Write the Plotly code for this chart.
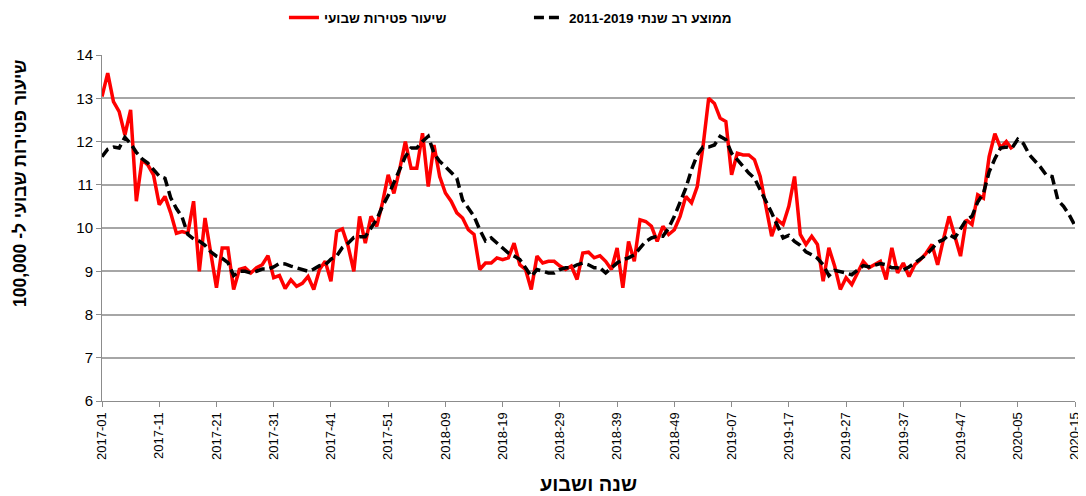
import plotly.graph_objects as go

# --- data ---
years = [2017, 2018, 2019, 2020]
weeks_per_year = [52, 52, 52, 15]
categories = [f"{y}-{w:02d}" for y, n in zip(years, weeks_per_year) for w in range(1, n + 1)]

weekly_rate = [
    13.04, 13.58, 12.92, 12.69, 12.15, 12.73, 10.62, 11.58, 11.46, 11.23,
    10.54, 10.73, 10.35, 9.88, 9.92, 9.88, 10.62, 9.0, 10.23, 9.42,
    8.62, 9.54, 9.54, 8.58, 9.04, 9.08, 8.96, 9.08, 9.15, 9.36,
    8.85, 8.9, 8.6, 8.8, 8.65, 8.72, 8.88, 8.58, 9.04, 9.23,
    8.77, 9.92, 9.98, 9.58, 9.0, 10.27, 9.65, 10.27, 10.04, 10.58,
    11.23, 10.8, 11.35, 12.0, 11.38, 11.38, 12.19, 10.96, 11.92, 11.19,
    10.81, 10.62, 10.35, 10.23, 9.96, 9.85, 9.04, 9.19, 9.19, 9.31,
    9.27, 9.31, 9.65, 9.15, 9.04, 8.58, 9.35, 9.19, 9.23, 9.23,
    9.12, 9.04, 9.12, 8.81, 9.42, 9.44, 9.31, 9.36, 9.23, 9.04,
    9.54, 8.62, 9.69, 9.23, 10.19, 10.15, 10.04, 9.69, 10.04, 9.85,
    9.96, 10.27, 10.73, 10.58, 10.96, 11.88, 13.0, 12.88, 12.54, 12.46,
    11.23, 11.73, 11.69, 11.69, 11.58, 11.19, 10.54, 9.81, 10.19, 10.08,
    10.5, 11.19, 9.85, 9.62, 9.81, 9.62, 8.77, 9.54, 9.12, 8.58,
    8.85, 8.69, 8.96, 9.23, 9.08, 9.15, 9.23, 8.81, 9.54, 8.96,
    9.19, 8.88, 9.15, 9.27, 9.42, 9.62, 9.15, 9.73, 10.27, 9.81,
    9.35, 10.19, 10.08, 10.77, 10.69, 11.65, 12.18, 11.85, 12.0, 11.82,
]

multi_year_avg = [
    11.65, 11.82, 11.87, 11.85, 12.1, 11.95, 11.75, 11.6, 11.5, 11.35,
    11.2, 11.15, 10.7, 10.45, 10.25, 9.85, 9.75, 9.7, 9.6, 9.45,
    9.35, 9.3, 9.2, 8.9, 9.0, 9.0, 8.96, 9.0, 9.05, 9.05,
    9.1, 9.18, 9.17, 9.12, 9.08, 9.05, 9.0, 9.05, 9.13, 9.15,
    9.28, 9.35, 9.55, 9.65, 9.78, 9.8, 9.8, 10.0, 10.2, 10.5,
    10.75, 11.05, 11.35, 11.65, 11.85, 11.85, 12.0, 12.12, 11.73, 11.54,
    11.42, 11.27, 11.15, 10.65, 10.46, 10.27, 9.96, 9.7, 9.77, 9.65,
    9.54, 9.42, 9.35, 9.27, 9.08, 8.88, 9.04, 9.0, 8.96, 8.96,
    9.04, 9.08, 9.08, 9.15, 9.19, 9.15, 9.08, 9.08, 8.96, 9.08,
    9.19, 9.27, 9.31, 9.38, 9.54, 9.69, 9.77, 9.81, 9.81, 10.0,
    10.27, 10.58, 10.92, 11.35, 11.69, 11.87, 11.87, 11.92, 12.12, 12.04,
    11.73, 11.58, 11.42, 11.27, 11.15, 10.9, 10.62, 10.35, 10.05, 9.77,
    9.83, 9.69, 9.6, 9.45, 9.38, 9.3, 9.15, 8.9, 9.02, 9.0,
    8.96, 8.92, 9.02, 9.13, 9.1, 9.15, 9.18, 9.15, 9.08, 9.08,
    9.03, 9.1, 9.2, 9.3, 9.38, 9.52, 9.67, 9.73, 9.85, 9.77,
    9.98, 10.19, 10.27, 10.6, 10.8, 11.3, 11.6, 11.85, 11.87, 11.85,
    12.05, 11.95, 11.7, 11.55, 11.4, 11.22, 11.19, 10.65, 10.5, 10.3,
    10.05,
]

tick_labels = categories[::10]

RLE, PDF = "\u202B", "\u202C"
name_rate = "שיעור פטירות שבועי"
name_avg = RLE + "ממוצע רב שנתי 2011-2019" + PDF
y_title = RLE + "שיעור פטירות שבועי ל- 100,000" + PDF
x_title = "שנה ושבוע"

FONT = "Liberation Sans, Arial, sans-serif"

fig = go.Figure()
fig.add_trace(go.Scatter(
    x=categories[:len(weekly_rate)], y=weekly_rate, mode="lines",
    name=name_rate, line=dict(color="#FF0000", width=3.5),
))
fig.add_trace(go.Scatter(
    x=categories, y=multi_year_avg, mode="lines",
    name=name_avg, line=dict(color="#000000", width=3.5, dash="10px,5px"),
))

# page body adds an 8px margin, so the figure is sized/offset to compensate
fig.update_layout(
    width=1078, height=488,
    margin=dict(l=94, r=11, t=47, b=95, autoexpand=False),
    paper_bgcolor="white", plot_bgcolor="white",
    font=dict(family=FONT, color="#000000"),
    legend=dict(
        orientation="h", x=0.187, xanchor="left",
        y=0.98, yanchor="middle", yref="container",
        font=dict(size=13.5, family=FONT, weight="bold"),
        entrywidth=200, entrywidthmode="pixels",
        traceorder="normal",
    ),
    xaxis=dict(
        type="category", categoryorder="array", categoryarray=categories,
        range=[0, len(categories) - 1], automargin=False,
        tickmode="array", tickvals=tick_labels, ticktext=tick_labels,
        tickangle=-90, tickfont=dict(size=13, family=FONT),
        ticks="outside", ticklen=5, tickcolor="#8C8C8C",
        showline=True, linecolor="#8C8C8C", linewidth=1,
        showgrid=False, zeroline=False,
        title=dict(text=x_title, font=dict(size=20, family=FONT, weight="bold"), standoff=18),
    ),
    yaxis=dict(
        range=[6, 14], dtick=1, tick0=6, automargin=False,
        tickfont=dict(size=15, family=FONT),
        ticks="outside", ticklen=5, tickcolor="#8C8C8C",
        showline=True, linecolor="#8C8C8C", linewidth=1,
        showgrid=True, gridcolor="#A6A6A6", gridwidth=1.5,
        zeroline=False,
    ),
    annotations=[dict(
        text=y_title, xref="paper", yref="paper", x=-0.0843, y=0.63,
        xanchor="center", yanchor="middle", textangle=-90, showarrow=False,
        font=dict(size=17.5, family=FONT, weight="bold"),
    )],
)

fig.write_html("out.html")
